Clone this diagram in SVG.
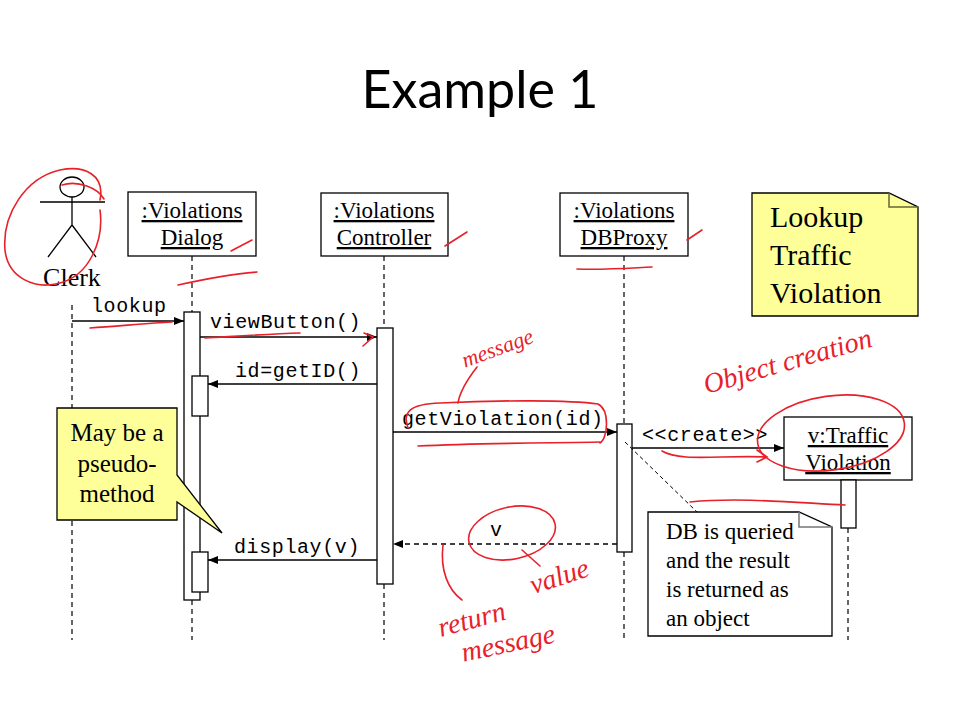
<svg xmlns="http://www.w3.org/2000/svg" width="960" height="720" viewBox="0 0 960 720">
<style>
.box{fill:#fff;stroke:#000;stroke-width:1.3}
.act{fill:#fff;stroke:#000;stroke-width:1.3}
.life{stroke:#000;stroke-width:1.2;stroke-dasharray:5,4;fill:none}
.msg{stroke:#000;stroke-width:1.3;fill:none}
.ret{stroke:#000;stroke-width:1.3;stroke-dasharray:5,4;fill:none}
.obj{font-family:"Liberation Serif",serif;font-size:23px;text-decoration:underline;text-anchor:middle;fill:#000}
.lbl{font-family:"Liberation Mono",monospace;font-size:20px;letter-spacing:0.6px;fill:#000}
.note{fill:#ffff99;stroke:#000;stroke-width:1.3}
.nt{font-family:"Liberation Serif",serif;fill:#000}
.red{stroke:#e8202a;stroke-width:1.6;fill:none;stroke-linecap:round}
.rt{font-family:"Liberation Serif",serif;font-style:italic;fill:#e8202a}
</style>
<defs>
<marker id="ah" viewBox="0 0 10 10" refX="10" refY="5" markerWidth="10" markerHeight="10" markerUnits="userSpaceOnUse" orient="auto">
<path d="M0,1 L10,5 L0,9 z" fill="#000"/>
</marker>
</defs>
<rect width="960" height="720" fill="#fff"/>
<text x="480" y="108" font-family="Lato,sans-serif" font-size="52" text-anchor="middle" fill="#000">Example 1</text>

<g id="clerk">
<ellipse cx="72" cy="187" rx="12" ry="10" fill="none" stroke="#000" stroke-width="1.3"/>
<path d="M40,202 H105 M72,197 V225 L48,257 M72,225 L96,257" stroke="#000" stroke-width="1.3" fill="none"/>
<text x="72" y="286" class="nt" font-size="26" text-anchor="middle">Clerk</text>
<line x1="72" y1="305" x2="72" y2="640" class="life"/>
</g>

<g id="dialog">
<rect x="128" y="192" width="128" height="64" class="box"/>
<text x="192" y="218" class="obj">:Violations</text>
<text x="192" y="245" class="obj">Dialog</text>
<line x1="192" y1="256" x2="192" y2="312" class="life"/>
<line x1="192" y1="600" x2="192" y2="640" class="life"/>
<rect x="184" y="312" width="16" height="288" class="act"/>
<rect x="192" y="376" width="16" height="40" class="act"/>
<rect x="192" y="552" width="16" height="40" class="act"/>
</g>

<g id="controller">
<rect x="321" y="193" width="127" height="63" class="box"/>
<text x="384" y="218" class="obj">:Violations</text>
<text x="384" y="245" class="obj">Controller</text>
<line x1="384" y1="256" x2="384" y2="328" class="life"/>
<line x1="384" y1="584" x2="384" y2="640" class="life"/>
<rect x="377" y="328" width="16" height="256" class="act"/>
</g>

<g id="dbproxy">
<rect x="560" y="193" width="128" height="63" class="box"/>
<text x="624" y="218" class="obj">:Violations</text>
<text x="624" y="245" class="obj">DBProxy</text>
<line x1="624" y1="256" x2="624" y2="424" class="life"/>
<line x1="624" y1="552" x2="624" y2="640" class="life"/>
<rect x="617" y="424" width="15" height="128" class="act"/>
</g>

<g id="traffic">
<rect x="784" y="417" width="128" height="63" class="box"/>
<text x="848" y="443" class="obj">v:Traffic</text>
<text x="848" y="470" class="obj">Violation</text>
<rect x="841" y="480" width="15" height="48" class="act"/>
<line x1="848" y1="528" x2="848" y2="640" class="life"/>
</g>

<g id="note-lookup">
<path d="M752,193 H889 L918,207 V316 H752 Z" class="note"/>
<path d="M889,193 V207 H918" fill="none" stroke="#666633" stroke-width="1.5"/>
<text x="770" y="227" class="nt" font-size="30">Lookup</text>
<text x="770" y="265" class="nt" font-size="30">Traffic</text>
<text x="770" y="303" class="nt" font-size="30">Violation</text>
</g>

<g id="note-pseudo">
<path d="M57,408 H177 V475 L222,533 L177,502 V520 H57 Z" class="note"/>
<text x="117" y="441" class="nt" font-size="25" text-anchor="middle">May be a</text>
<text x="117" y="472" class="nt" font-size="25" text-anchor="middle">pseudo-</text>
<text x="117" y="502" class="nt" font-size="25" text-anchor="middle">method</text>
</g>

<g id="note-db">
<path d="M648,512 H799 L832,527 V636 H648 Z" fill="#fff" stroke="#000" stroke-width="1.3"/>
<path d="M799,512 V527 H832" fill="none" stroke="#777" stroke-width="1.5"/>
<text x="666" y="539" class="nt" font-size="23">DB is queried</text>
<text x="666" y="568" class="nt" font-size="23">and the result</text>
<text x="666" y="597" class="nt" font-size="23">is returned as</text>
<text x="666" y="626" class="nt" font-size="23">an object</text>
</g>

<g id="connectors">
<line x1="72" y1="321" x2="184" y2="321" class="msg" marker-end="url(#ah)"/>
<text x="91" y="312" class="lbl">lookup</text>
<line x1="200" y1="337" x2="377" y2="337" class="msg" marker-end="url(#ah)"/>
<text x="210" y="328" class="lbl">viewButton()</text>
<line x1="377" y1="384" x2="208" y2="384" class="msg" marker-end="url(#ah)"/>
<text x="235" y="377" class="lbl">id=getID()</text>
<line x1="393" y1="432" x2="617" y2="432" class="msg" marker-end="url(#ah)"/>
<text x="402" y="425" class="lbl">getViolation(id)</text>
<line x1="632" y1="448" x2="784" y2="448" class="msg" marker-end="url(#ah)"/>
<text x="642" y="441" class="lbl">&lt;&lt;create&gt;&gt;</text>
<line x1="617" y1="544" x2="393" y2="544" class="ret" marker-end="url(#ah)"/>
<text x="490" y="536" class="lbl">v</text>
<line x1="377" y1="560" x2="208" y2="560" class="msg" marker-end="url(#ah)"/>
<text x="234" y="553" class="lbl">display(v)</text>
<line x1="625" y1="442" x2="697" y2="512" stroke="#000" stroke-width="1" stroke-dasharray="4,3"/>
</g>

<g id="annotations">
<path class="red" d="M62,185 C78,180 98,188 104,199"/>
<path class="red" d="M100,200 C105,175 85,165 60,170 C25,178 2,215 5,250 C8,278 35,290 60,283 C90,275 104,240 100,210"/>
<path class="red" d="M231,251 L252,240"/>
<path class="red" d="M178,285 C205,279 232,274 257,272"/>
<path class="red" d="M90,328 C120,326 150,323 172,322"/>
<path class="red" d="M205,338 C240,336 270,334 300,333"/>
<path class="red" d="M364,333 L373,337 L363,346"/>
<path class="red" d="M445,246 L467,232"/>
<path class="red" d="M577,269 C605,270 630,268 652,267"/>
<path class="red" d="M687,240 L702,230"/>
<path class="red" d="M408,428 C402,412 410,404 440,403 C500,400 570,400 598,404 C610,410 608,438 600,443"/>
<path class="red" d="M418,446 C480,443 550,443 600,442"/>
<path class="red" d="M458,403 C460,390 470,376 477,367"/>
<text x="500" y="355" class="rt" font-size="22" text-anchor="middle" transform="rotate(-20 500 355)">message</text>
<text x="790" y="370" class="rt" font-size="28" text-anchor="middle" transform="rotate(-16 790 370)">Object creation</text>
<ellipse cx="831" cy="433" rx="74" ry="37" class="red" transform="rotate(-8 831 433)"/>
<path class="red" d="M662,451 C680,462 720,455 767,457 M757,450 L767,457 L757,462"/>
<path class="red" d="M690,502 C740,497 800,503 845,505"/>
<ellipse cx="512" cy="533" rx="44" ry="26" class="red" transform="rotate(-12 512 533)"/>
<path class="red" d="M522,550 L540,566"/>
<text x="562" y="585" class="rt" font-size="28" text-anchor="middle" transform="rotate(-18 562 585)">value</text>
<path class="red" d="M443,545 C440,570 448,590 462,600"/>
<text x="474" y="628" class="rt" font-size="28" text-anchor="middle" transform="rotate(-15 474 628)">return</text>
<text x="510" y="652" class="rt" font-size="28" text-anchor="middle" transform="rotate(-12 510 652)">message</text>
</g>
</svg>
